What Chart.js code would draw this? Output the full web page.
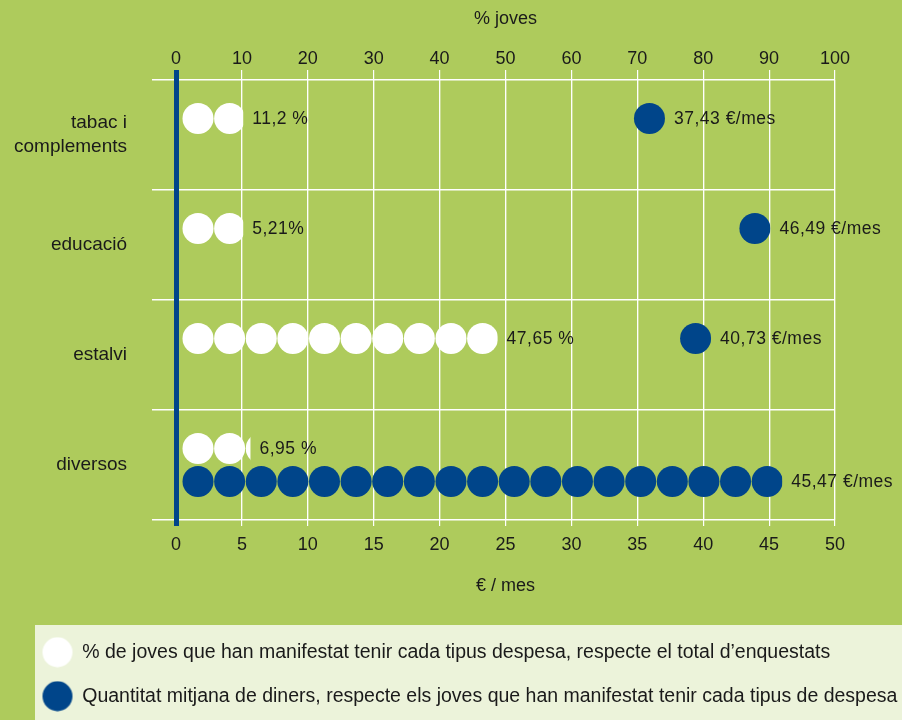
<!DOCTYPE html>
<html>
<head>
<meta charset="utf-8">
<script src="https://cdn.jsdelivr.net/npm/chart.js@4"></script>
<style>
  body { margin: 0; background: #aecb5c; }
  #wrap { width: 902px; height: 720px; }
</style>
</head>
<body>
<div id="wrap"><canvas id="chart" width="902" height="720"></canvas></div>
<script>
// categories (rows of the pictogram)
const categories = [['tabac i', 'complements'], 'educació', 'estalvi', 'diversos'];

// % joves: extent of the white icons as drawn, and the printed values
const youthShare = [10.2, 10.2, 48.8, 11.3];
const youthLabels = ['11,2 %', '5,21%', '47,65 %', '6,95 %'];

// €/mes: single blue marker (right edge at value) and the full icon row
const monthlyDot = [37.1, 45.1, 40.6, null];
const monthlyRow = [null, null, null, 46.0];
const monthlyLabels = ['37,43 €/mes', '46,49 €/mes', '40,73 €/mes', '45,47 €/mes'];

const legendTexts = [
  '% de joves que han manifestat tenir cada tipus despesa, respecte el total d\u2019enquestats',
  'Quantitat mitjana de diners, respecte els joves que han manifestat tenir cada tipus de despesa'
];

const GREEN = '#aecb5c';
const PALE = '#ecf3da';
const BLUE = '#00458a';
const INK = '#1a1a1a';

Chart.defaults.font.family = "'Liberation Sans', Arial, sans-serif";
Chart.defaults.color = INK;

// legend marker: a 30px disc, drawn a little right of the image centre
function dotImage(color) {
    const c = document.createElement('canvas');
    c.width = 50;
    c.height = 31;
    const g = c.getContext('2d');
    g.fillStyle = color;
    g.beginPath();
    g.arc(34, 15.5, 15, 0, Math.PI * 2);
    g.fill();
    return c;
}

// paints the green page and the pale legend panel
const backdrop = {
    id: 'backdrop',
    beforeDraw(chart) {
        const { ctx, width, height, legend } = chart;
        ctx.save();
        ctx.fillStyle = GREEN;
        ctx.fillRect(0, 0, width, height);
        ctx.fillStyle = PALE;
        ctx.fillRect(35, legend.top + 7, width - 35, height - legend.top - 7);
        ctx.restore();
    }
};

// draws each bar as a row of round icons, plus the value text after it
const pictogram = {
    id: 'pictogram',
    afterDatasetsDraw(chart) {
        const ctx = chart.ctx;
        chart.data.datasets.forEach((ds, di) => {
            const meta = chart.getDatasetMeta(di);
            meta.data.forEach((bar, i) => {
                if (ds.data[i] == null) return;
                const { x, y, base, height } = bar.getProps(['x', 'y', 'base', 'height'], true);
                const r = height / 2;
                const pitch = height + 0.6;
                ctx.save();
                ctx.beginPath();
                ctx.rect(base, y - r - 1, x - base, height + 2);
                ctx.clip();
                ctx.fillStyle = ds.iconColor;
                if (ds.iconMode === 'end') {
                    ctx.beginPath();
                    ctx.arc(x - r, y, r, 0, Math.PI * 2);
                    ctx.fill();
                } else {
                    for (let cx = base + 4 + r; cx - r < x - 2; cx += pitch) {
                        ctx.beginPath();
                        ctx.arc(cx, y, r, 0, Math.PI * 2);
                        ctx.fill();
                    }
                }
                ctx.restore();

                ctx.save();
                ctx.fillStyle = INK;
                ctx.font = "17.5px 'Liberation Sans', Arial, sans-serif";
                ctx.letterSpacing = '0.5px';
                ctx.textAlign = 'left';
                ctx.textBaseline = 'middle';
                ctx.fillText(ds.valueLabels[i], x + 9, y + 1);
                ctx.restore();
            });
        });
    }
};

const zeroLine = (c) => c.tick && c.tick.value === 0;

new Chart(document.getElementById('chart'), {
    type: 'bar',
    data: {
        labels: categories,
        datasets: [
            {
                label: legendTexts[0],
                data: youthShare,
                xAxisID: 'xPct',
                stack: 'upper',
                backgroundColor: 'rgba(0,0,0,0)',
                iconColor: '#ffffff',
                iconMode: 'fill',
                valueLabels: youthLabels
            },
            {
                label: legendTexts[1],
                data: monthlyDot,
                xAxisID: 'xEur',
                stack: 'upper',
                backgroundColor: 'rgba(0,0,0,0)',
                iconColor: BLUE,
                iconMode: 'end',
                valueLabels: monthlyLabels
            },
            {
                label: legendTexts[1],
                data: monthlyRow,
                xAxisID: 'xEur',
                stack: 'lower',
                backgroundColor: 'rgba(0,0,0,0)',
                iconColor: BLUE,
                iconMode: 'fill',
                valueLabels: monthlyLabels
            }
        ]
    },
    options: {
        indexAxis: 'y',
        responsive: false,
        animation: false,
        categoryPercentage: 0.6,
        barPercentage: 0.94,
        layout: { padding: { left: 0, right: 0, top: 0, bottom: 4 } },
        scales: {
            y: {
                type: 'category',
                offset: true,
                grid: { offset: true, color: '#ffffff', lineWidth: 1.5, tickLength: 24, z: -2 },
                border: { display: false },
                ticks: { padding: 25, font: { size: 19, lineHeight: 1.25 }, color: INK },
                afterFit(scale) { scale.width = 176; }
            },
            // empty strip that keeps the plot clear of the right edge
            yRight: {
                type: 'category',
                position: 'right',
                grid: { display: false },
                border: { display: false },
                ticks: { display: false },
                afterFit(scale) { scale.width = 67; }
            },
            xPct: {
                type: 'linear',
                position: 'top',
                min: 0,
                max: 100,
                stacked: false,
                ticks: { stepSize: 10, padding: 0, font: { size: 18 }, color: INK },
                grid: {
                    color: (c) => zeroLine(c) ? BLUE : '#ffffff',
                    lineWidth: (c) => zeroLine(c) ? 5 : 1.2,
                    tickLength: 10
                },
                border: { display: false },
                title: { display: true, text: '% joves', font: { size: 18 }, color: INK, padding: { top: 8, bottom: 0 } },
                afterFit(scale) { scale.height = 80; }
            },
            xEur: {
                type: 'linear',
                position: 'bottom',
                min: 0,
                max: 50,
                stacked: false,
                ticks: { stepSize: 5, padding: 8.5, font: { size: 18 }, color: INK },
                grid: {
                    color: (c) => zeroLine(c) ? BLUE : '#ffffff',
                    lineWidth: (c) => zeroLine(c) ? 5 : 1.2,
                    tickLength: 6
                },
                border: { display: false },
                title: { display: true, text: '€ / mes', font: { size: 18 }, color: INK, padding: { top: 0, bottom: 21 } },
                afterFit(scale) { scale.height = 98; }
            }
        },
        plugins: {
            legend: {
                position: 'bottom',
                align: 'start',
                labels: {
                    usePointStyle: true,
                    pointStyleWidth: 48,
                    padding: 24.5,
                    color: INK,
                    font: { size: 19.5 },
                    generateLabels: () => [
                        { text: legendTexts[0], pointStyle: dotImage('#ffffff'), fontColor: INK, datasetIndex: 0, hidden: false, lineWidth: 0 },
                        { text: legendTexts[1], pointStyle: dotImage(BLUE), fontColor: INK, datasetIndex: 2, hidden: false, lineWidth: 0 }
                    ]
                }
            },
            tooltip: { enabled: false }
        }
    },
    plugins: [backdrop, pictogram]
});
</script>
</body>
</html>
